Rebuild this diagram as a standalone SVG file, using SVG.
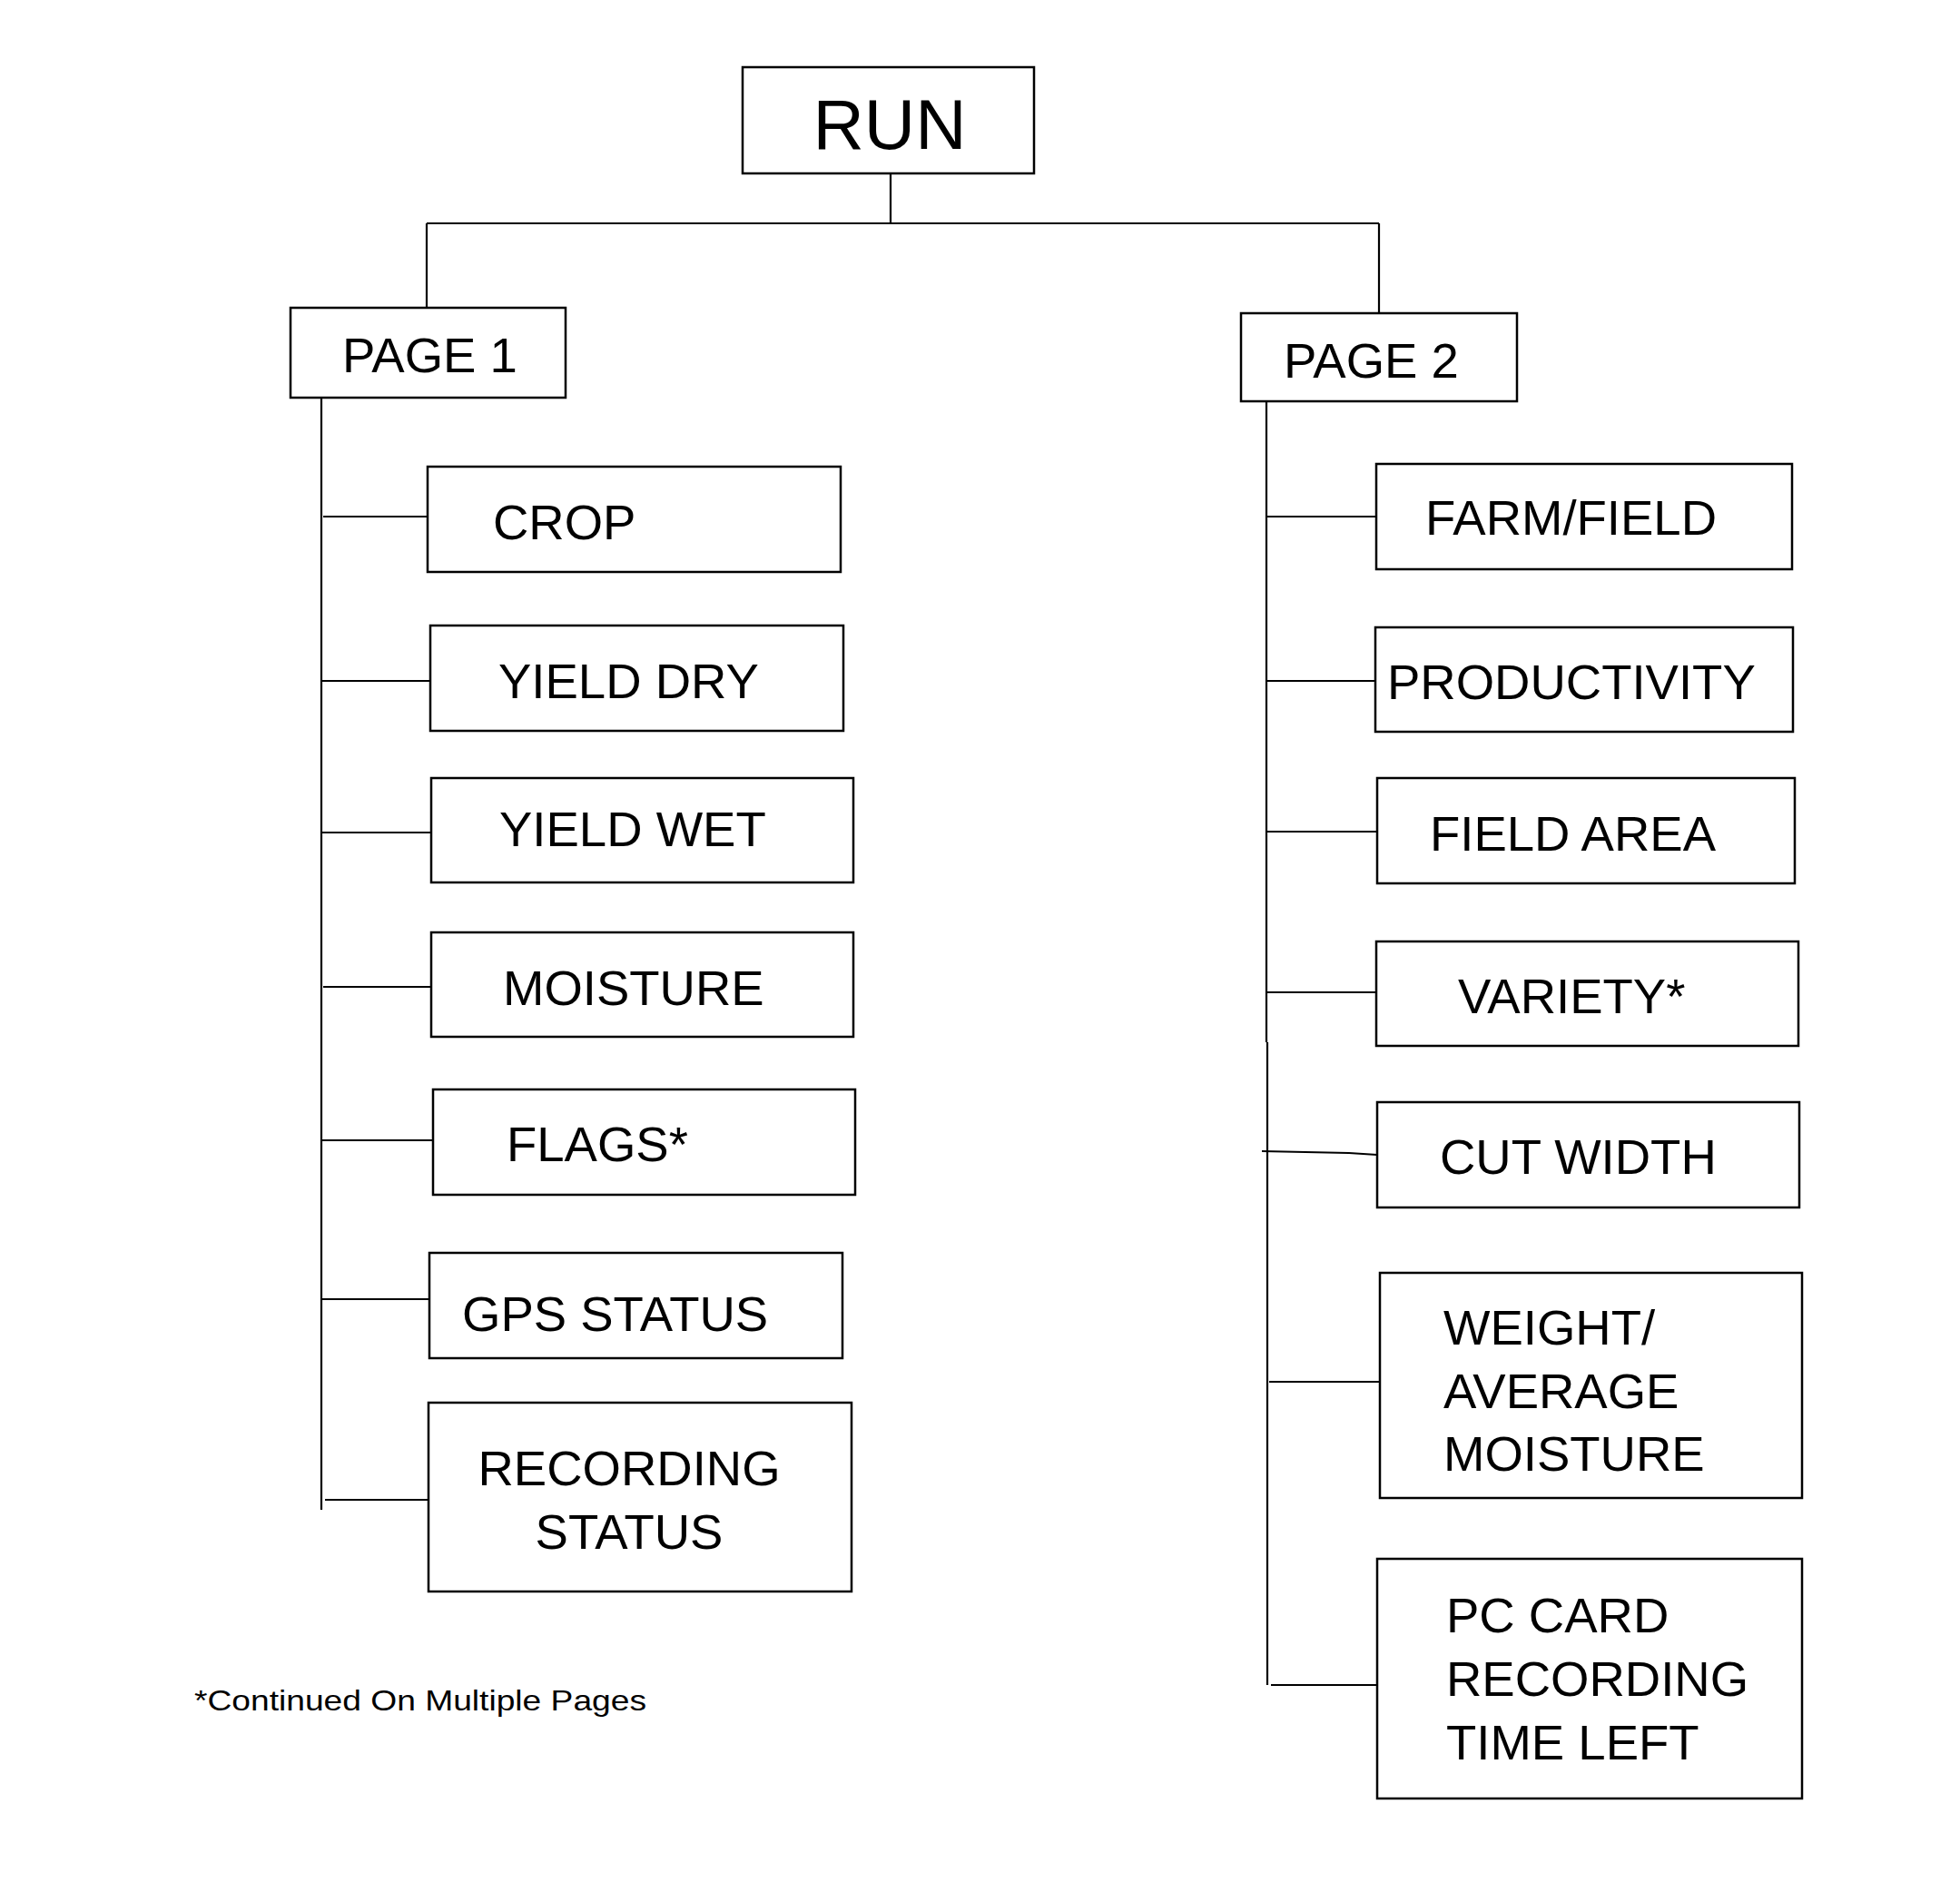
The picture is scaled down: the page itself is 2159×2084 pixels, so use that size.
<svg xmlns="http://www.w3.org/2000/svg" width="2159" height="2084" viewBox="0 0 2159 2084">
<style>
  .box { fill: #ffffff; stroke: #000000; stroke-width: 2.5; }
  .lbl { font-family: "Liberation Sans", Arial, Helvetica, sans-serif; font-size: 54.5px; fill: #000000; }
  .big { font-size: 78px; }
  .note { font-family: "Liberation Sans", Arial, Helvetica, sans-serif; font-size: 32px; fill: #000000; }
  .conn { fill: none; stroke: #000000; stroke-width: 2.2; }
</style>
<rect x="0" y="0" width="2159" height="2084" fill="#ffffff"/>

<g id="connectors">
  <polyline class="conn" points="981,191 981,246"/>
  <polyline class="conn" points="470,246 1519,246"/>
  <polyline class="conn" points="470,246 470,339"/>
  <polyline class="conn" points="1519,246 1519,345"/>
  <polyline class="conn" points="354,438 354,1663"/>
  <polyline class="conn" points="356,569 471,569"/>
  <polyline class="conn" points="355,750 474,750"/>
  <polyline class="conn" points="355,917 475,917"/>
  <polyline class="conn" points="356,1087 475,1087"/>
  <polyline class="conn" points="354,1256 477,1256"/>
  <polyline class="conn" points="354,1431 473,1431"/>
  <polyline class="conn" points="358,1652 477,1652"/>
  <polyline class="conn" points="1395,442 1395,1148"/>
  <polyline class="conn" points="1396,1148 1396,1856"/>
  <polyline class="conn" points="1395,569 1516,569"/>
  <polyline class="conn" points="1394,750 1515,750"/>
  <polyline class="conn" points="1394,916 1517,916"/>
  <polyline class="conn" points="1395,1093 1516,1093"/>
  <polyline class="conn" points="1390,1268 1486,1270 1517,1272"/>
  <polyline class="conn" points="1398,1522 1520,1522"/>
  <polyline class="conn" points="1400,1856 1517,1856"/>
</g>

<g id="run">
  <rect class="box" x="818" y="74" width="321" height="117"/>
  <text class="lbl big" x="980" y="164" text-anchor="middle">RUN</text>
</g>
<g id="page1">
  <rect class="box" x="320" y="339" width="303" height="99"/>
  <text class="lbl" x="377" y="410">PAGE 1</text>
</g>
<g id="page2">
  <rect class="box" x="1367" y="345" width="304" height="97"/>
  <text class="lbl" x="1414" y="416">PAGE 2</text>
</g>

<g id="crop">
  <rect class="box" x="471" y="514" width="455" height="116"/>
  <text class="lbl" x="543" y="594">CROP</text>
</g>
<g id="yield-dry">
  <rect class="box" x="474" y="689" width="455" height="116"/>
  <text class="lbl" x="549" y="769">YIELD DRY</text>
</g>
<g id="yield-wet">
  <rect class="box" x="475" y="857" width="465" height="115"/>
  <text class="lbl" x="550" y="932">YIELD WET</text>
</g>
<g id="moisture">
  <rect class="box" x="475" y="1027" width="465" height="115"/>
  <text class="lbl" x="554" y="1107">MOISTURE</text>
</g>
<g id="flags">
  <rect class="box" x="477" y="1200" width="465" height="116"/>
  <text class="lbl" x="558" y="1279">FLAGS*</text>
</g>
<g id="gps-status">
  <rect class="box" x="473" y="1380" width="455" height="116"/>
  <text class="lbl" x="509" y="1466">GPS STATUS</text>
</g>
<g id="recording-status">
  <rect class="box" x="472" y="1545" width="466" height="208"/>
  <text class="lbl" x="693" y="1636" text-anchor="middle">RECORDING</text>
  <text class="lbl" x="693" y="1706" text-anchor="middle">STATUS</text>
</g>

<g id="farm-field">
  <rect class="box" x="1516" y="511" width="458" height="116"/>
  <text class="lbl" x="1570" y="589">FARM/FIELD</text>
</g>
<g id="productivity">
  <rect class="box" x="1515" y="691" width="460" height="115"/>
  <text class="lbl" x="1528" y="770">PRODUCTIVITY</text>
</g>
<g id="field-area">
  <rect class="box" x="1517" y="857" width="460" height="116"/>
  <text class="lbl" x="1575" y="937">FIELD AREA</text>
</g>
<g id="variety">
  <rect class="box" x="1516" y="1037" width="465" height="115"/>
  <text class="lbl" x="1606" y="1116">VARIETY*</text>
</g>
<g id="cut-width">
  <rect class="box" x="1517" y="1214" width="465" height="116"/>
  <text class="lbl" x="1586" y="1293">CUT WIDTH</text>
</g>
<g id="weight-average-moisture">
  <rect class="box" x="1520" y="1402" width="465" height="248"/>
  <text class="lbl" x="1590" y="1481">WEIGHT/</text>
  <text class="lbl" x="1590" y="1551">AVERAGE</text>
  <text class="lbl" x="1590" y="1620">MOISTURE</text>
</g>
<g id="pc-card">
  <rect class="box" x="1517" y="1717" width="468" height="264"/>
  <text class="lbl" x="1593" y="1798">PC CARD</text>
  <text class="lbl" x="1593" y="1868">RECORDING</text>
  <text class="lbl" x="1593" y="1938">TIME LEFT</text>
</g>

<text class="note" x="214" y="1884" textLength="498" lengthAdjust="spacingAndGlyphs">*Continued On Multiple Pages</text>
</svg>
